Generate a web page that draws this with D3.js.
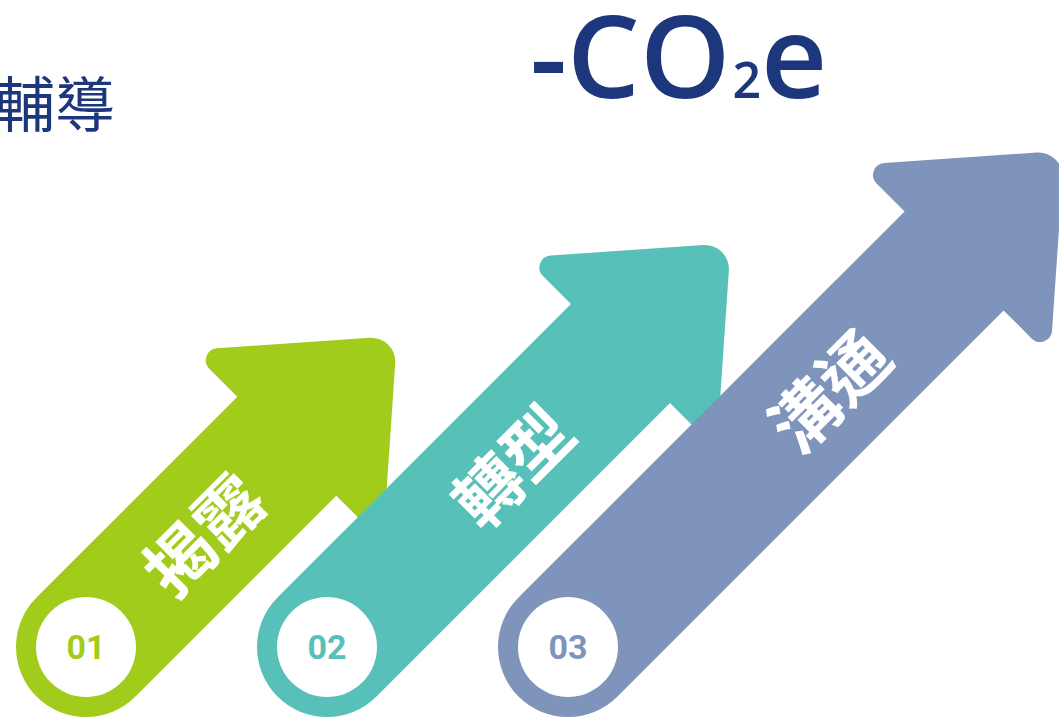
<!DOCTYPE html>
<html>
<head>
<meta charset="utf-8">
<script src="https://cdn.jsdelivr.net/npm/d3@7/dist/d3.min.js"></script>
<style>
  html, body { margin: 0; padding: 0; background: #ffffff; }
  svg { display: block; }
</style>
</head>
<body>
<svg id="chart" width="1059" height="717"></svg>
<script>
// ---- data ----
const steps = ["01", "02", "03"];
const labels = ["揭露", "轉型", "溝通"];
const reach = [1, 2, 3];
const titleMain = "-CO";
const titleSub = "2";
const titleEnd = "e";
const sideText = "輔導";

// ---- style / layout ----
const colors = ["#A2CC1B", "#57C1B9", "#7F94BA"];
const navy = "#1D377D";
const labelOffset = [163, 259, 366];

const W = 1059, H = 717;
const svg = d3.select("#chart");

const x = d3.scalePoint().domain(steps).range([86, 568]);
const tip = d3.scaleLinear().domain([1, 3]).range([440, 702]);
const baseY = 647;
const half = 70, headHalf = 136, headLen = 156;

function arrowPath(tipS) {
  const L = tipS - headLen;
  const p = d3.path();
  p.moveTo(0, -half);
  p.lineTo(L, -half);
  p.arcTo(L, -headHalf, tipS, 0, 12);
  p.arcTo(tipS, 0, L, headHalf, 24);
  p.arcTo(L, headHalf, L, half, 12);
  p.lineTo(L, half);
  p.lineTo(0, half);
  p.arc(0, 0, half, Math.PI / 2, 3 * Math.PI / 2, false);
  p.closePath();
  return p.toString();
}

const g = svg.selectAll("g.step")
  .data(steps.map((s, i) => ({ s, label: labels[i], r: reach[i], i })))
  .join("g")
  .attr("class", "step")
  .attr("transform", d => `translate(${x(d.s)},${baseY})`);

const rot = g.append("g").attr("transform", "rotate(-45)");
rot.append("path")
  .attr("d", d => arrowPath(tip(d.r)))
  .attr("fill", d => colors[d.i]);
rot.append("text")
  .attr("x", d => labelOffset[d.i])
  .attr("y", 5)
  .attr("dy", "0.36em")
  .attr("text-anchor", "middle")
  .attr("font-family", "'Noto Sans CJK TC', 'Noto Sans CJK SC', sans-serif")
  .attr("font-weight", 700)
  .attr("font-size", 68)
  .attr("fill", "#ffffff")
  .text(d => d.label);

g.append("circle").attr("r", 50).attr("fill", "#ffffff");
g.append("text")
  .attr("text-anchor", "middle")
  .attr("dy", "0.36em")
  .attr("font-family", "Roboto, 'Open Sans', sans-serif")
  .attr("font-weight", 700)
  .attr("font-size", 34)
  .attr("fill", d => colors[d.i])
  .text(d => d.s);

// title
const t = svg.append("text")
  .attr("x", 530).attr("y", 98)
  .attr("font-family", "'Open Sans', sans-serif")
  .attr("font-weight", 600)
  .attr("font-size", 115)
  .attr("fill", navy);
t.append("tspan").text(titleMain);
t.append("tspan").attr("font-size", 50).attr("dx", 2).text(titleSub);
t.append("tspan").attr("dx", 0).text(titleEnd);

svg.append("text")
  .attr("x", 115).attr("y", 127)
  .attr("text-anchor", "end")
  .attr("font-family", "'Noto Sans CJK TC', sans-serif")
  .attr("font-weight", 400)
  .attr("font-size", 60)
  .attr("fill", navy)
  .text(sideText);
</script>
</body>
</html>
